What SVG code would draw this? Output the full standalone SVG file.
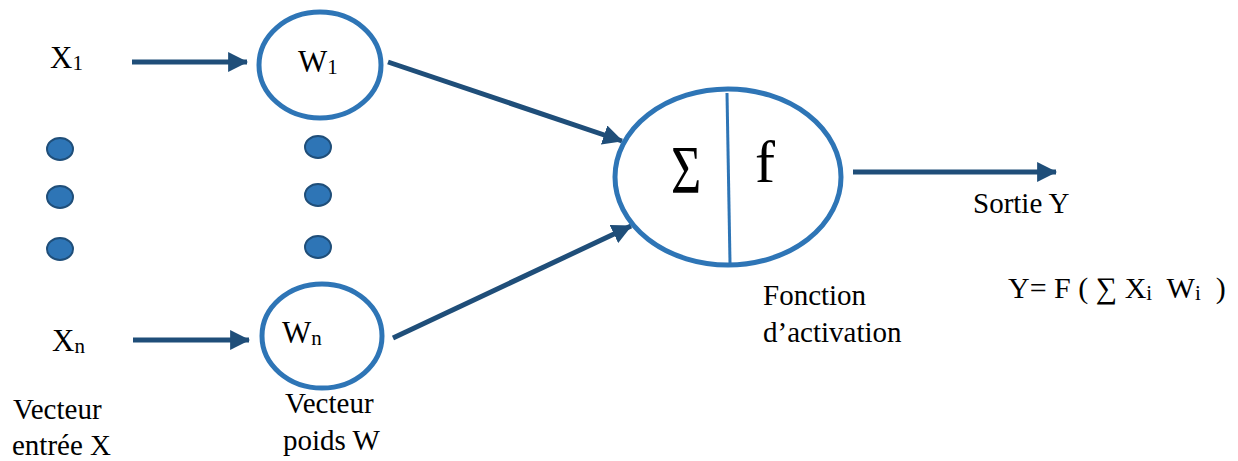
<svg xmlns="http://www.w3.org/2000/svg" width="1238" height="461" viewBox="0 0 1238 461">
<defs>
<style>
.t{font-family:"Liberation Serif","Times New Roman",serif;font-size:29px;fill:#000}
.v{font-size:31px}
.sub{font-size:21px}
.ring{fill:#fff;stroke:#2E75B6;stroke-width:5}
.dot{fill:#2E75B6;stroke:#1F4E79;stroke-width:2}
.arr{stroke:#1F4E79;stroke-width:5;fill:none;marker-end:url(#ah)}
</style>
<marker id="ah" markerUnits="userSpaceOnUse" markerWidth="20" markerHeight="20" viewBox="0 0 18 18" refX="17" refY="9" orient="auto">
<path d="M0,0 L18,9 L0,18 Z" fill="#1F4E79"/>
</marker>
</defs>
<rect width="1238" height="461" fill="#fff"/>
<g id="connectors">
<line class="arr" x1="132" y1="62" x2="247" y2="62"/>
<line class="arr" x1="133" y1="340" x2="249" y2="340"/>
<line class="arr" x1="388" y1="62" x2="622" y2="141"/>
<line class="arr" x1="393" y1="338" x2="631" y2="226"/>
<line class="arr" x1="853" y1="172" x2="1056" y2="172"/>
</g>
<g id="x1"><text class="t v" x="50" y="68">X<tspan class="sub" dy="2">1</tspan></text></g>
<g id="xn"><text class="t v" x="52" y="351">X<tspan class="sub" dy="2">n</tspan></text></g>
<g id="dots-x">
<ellipse class="dot" cx="60" cy="149" rx="13" ry="11"/>
<ellipse class="dot" cx="60" cy="197" rx="13" ry="11"/>
<ellipse class="dot" cx="60" cy="249" rx="13" ry="11"/>
</g>
<g id="dots-w">
<ellipse class="dot" cx="318" cy="147" rx="13" ry="11"/>
<ellipse class="dot" cx="318" cy="195" rx="13" ry="11"/>
<ellipse class="dot" cx="318" cy="247" rx="13" ry="11"/>
</g>
<g id="w1">
<ellipse class="ring" cx="320" cy="65" rx="61" ry="53"/>
<text class="t v" x="298" y="72">W<tspan class="sub" dy="2">1</tspan></text>
</g>
<g id="wn">
<ellipse class="ring" cx="322" cy="336" rx="60" ry="52"/>
<text class="t v" x="282" y="343">W<tspan class="sub" dy="2">n</tspan></text>
</g>
<g id="neuron">
<ellipse class="ring" cx="728" cy="177" rx="113" ry="88"/>
<line x1="727" y1="93" x2="730" y2="263" stroke="#2E75B6" stroke-width="3"/>
<text class="t" x="671" y="192" style="font-size:52px" transform="translate(0,192) scale(1,1.3) translate(0,-192)">Σ</text>
<text class="t" x="755" y="182" style="font-size:60px">f</text>
</g>
<g id="labels">
<text class="t" x="13" y="419">Vecteur</text>
<text class="t" x="12" y="455">entrée X</text>
<text class="t" x="285" y="413">Vecteur</text>
<text class="t" x="283" y="450">poids W</text>
<text class="t" x="763" y="305">Fonction</text>
<text class="t" x="763" y="342">d’activation</text>
<text class="t" x="973" y="213">Sortie Y</text>
<text class="t" x="1008" y="298" style="font-size:30px" xml:space="preserve">Y= F ( ∑ X<tspan class="sub" dy="2">i</tspan><tspan dy="-2">  W</tspan><tspan class="sub" dy="2">i</tspan><tspan dy="-2">  )</tspan></text>
</g>
</svg>
